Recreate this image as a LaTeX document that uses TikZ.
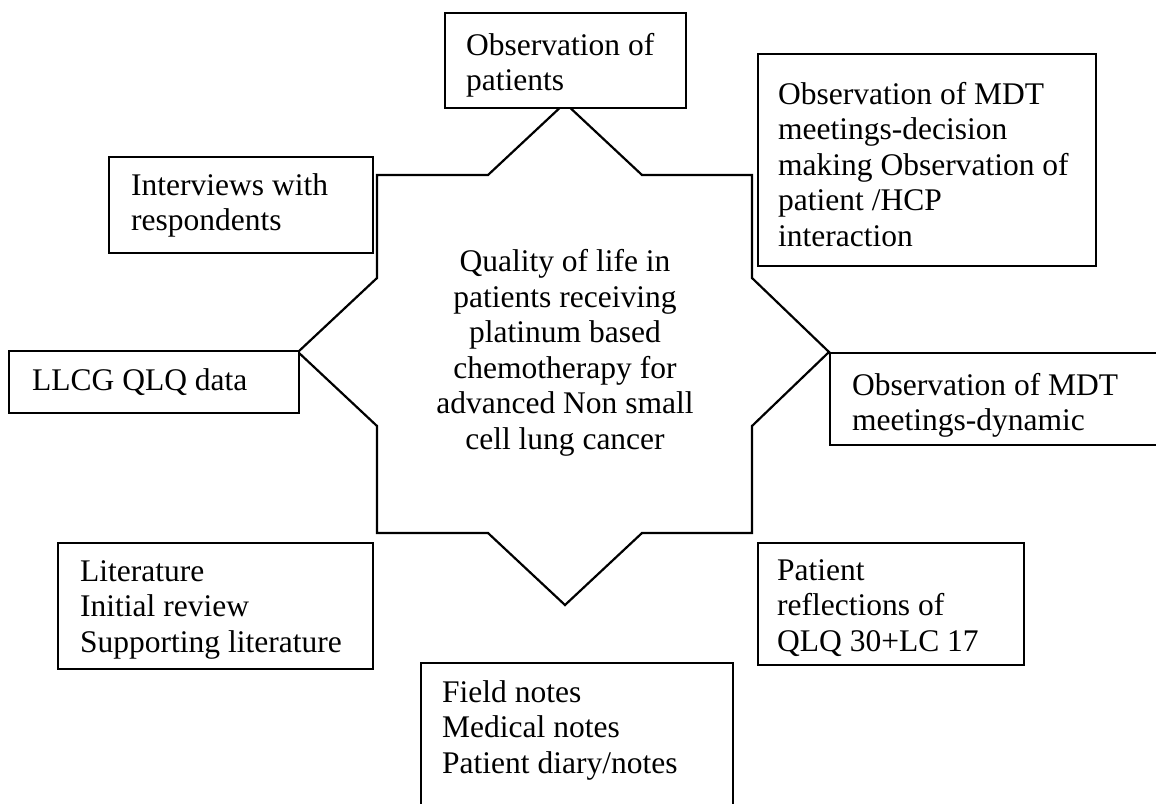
\documentclass[tikz,border=0pt]{standalone}
\usepackage{fontspec}
\setmainfont{Liberation Serif}
\begin{document}
\begin{tikzpicture}[x=1pt,y=-1pt,
  frame/.style={draw, line width=2pt, fill=white, inner sep=0pt, anchor=north west},
  txt/.style={inner sep=0pt, anchor=north west, align=left,
              font=\fontsize{31.5}{35.5}\selectfont},
  startext/.style={inner sep=0pt, align=center,
              font=\fontsize{31.5}{35.5}\selectfont},
  starline/.style={line width=2.2pt, fill=white, line join=miter}]
\useasboundingbox (0,0) rectangle (1156,803);

% eight-pointed star around the central topic
\draw[starline] (377,175) -- (488,175) -- (565,103) -- (642,175) -- (752,175)
  -- (752,278) -- (829,352) -- (752,426) -- (752,533) -- (642,533)
  -- (565,605) -- (488,533) -- (377,533) -- (377,426) -- (298,352)
  -- (377,278) -- cycle;
\node[startext] (core) at (565,353)
  {Quality of life in\\patients receiving\\platinum based\\chemotherapy for\\advanced Non small\\cell lung cancer};

% surrounding source boxes
\node[frame, minimum width=241pt, minimum height=95pt] (obsP) at (444,12) {};
\node[txt] (obsPt) at (466,30) {\strut Observation of\\patients};

\node[frame, minimum width=338pt, minimum height=212pt] (mdtD) at (757,53) {};
\node[txt] (mdtDt) at (778,79) {\strut Observation of MDT\\meetings-decision\\making Observation of\\patient /HCP\\interaction};

\node[frame, minimum width=264pt, minimum height=96pt] (intv) at (108,156) {};
\node[txt] (intvt) at (131,170) {\strut Interviews with\\respondents};

\node[frame, minimum width=290pt, minimum height=62pt] (llcg) at (8,350) {};
\node[txt] (llcgt) at (32,365) {\strut LLCG QLQ data};

\node[frame, minimum width=340pt, minimum height=92pt] (mdtY) at (829,352) {};
\node[txt] (mdtYt) at (852,370) {\strut Observation of MDT\\meetings-dynamic};

\node[frame, minimum width=315pt, minimum height=126pt] (lit) at (57,542) {};
\node[txt] (litt) at (80,556) {\strut Literature\\Initial review\\Supporting literature};

\node[frame, minimum width=266pt, minimum height=122pt] (refl) at (757,542) {};
\node[txt] (reflt) at (777,555) {\strut Patient\\reflections of\\QLQ 30+LC 17};

\node[frame, minimum width=312pt, minimum height=160pt] (notes) at (420,662) {};
\node[txt] (notest) at (442,677) {\strut Field notes\\Medical notes\\Patient diary/notes};
\end{tikzpicture}
\end{document}
